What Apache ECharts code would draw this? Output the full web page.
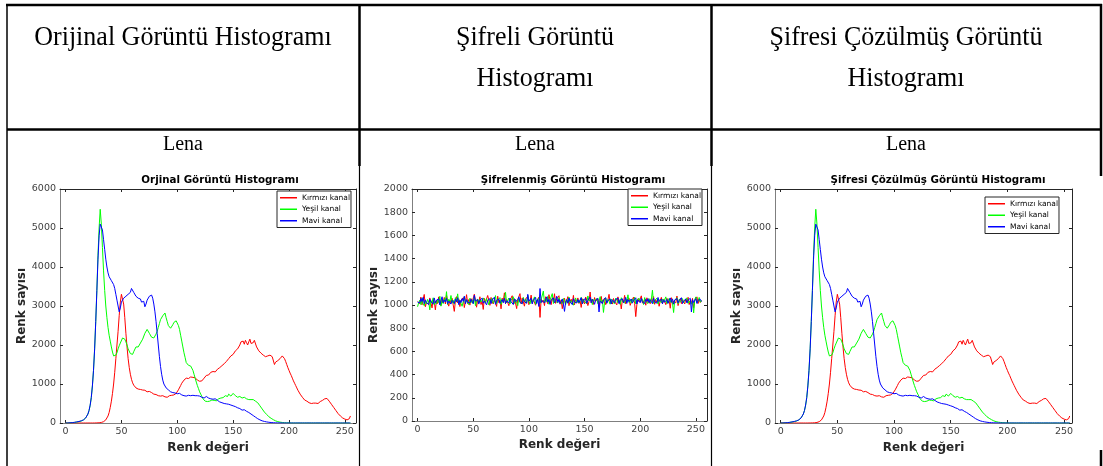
<!DOCTYPE html>
<html>
<head>
<meta charset="utf-8">
<script src="https://cdn.jsdelivr.net/npm/echarts@6/dist/echarts.min.js"></script>
<style>
html,body{margin:0;padding:0;background:#fff;}
#c{width:1103px;height:466px;}
</style>
</head>
<body>
<div id="c"></div>
<script>
// Column headings of the comparison table
const headings = [
  ['Orijinal Görüntü Histogramı'],
  ['Şifreli Görüntü', 'Histogramı'],
  ['Şifresi Çözülmüş Görüntü', 'Histogramı']
];
const imageName = 'Lena';
const plotTitles = ['Orjinal Görüntü Histogramı', 'Şifrelenmiş Görüntü Histogramı', 'Şifresi Çözülmüş Görüntü Histogramı'];
const channelNames = ['Kırmızı kanal', 'Yeşil kanal', 'Mavi kanal'];
const channelColors = ['#ff0000', '#00ff00', '#0000ff'];
const xTicks = [0, 50, 100, 150, 200, 250];
const xLabel = 'Renk değeri';
const yLabel = 'Renk sayısı';

// Histogram of the original image (intensity 0..255)
const origRed = [
  0,0,0,0,0,0,0,0,0,0,0,0,0,0,0,0,
  0,0,0,0,0,0,0,0,0,1,1,2,3,4,6,9,
  14,22,34,52,80,120,180,270,400,560,760,1000,1300,1650,2000,2350,
  2750,3100,3300,3250,3050,2700,2300,1950,1650,1420,1250,1120,1030,970,930,900,
  880,870,850,860,830,845,820,840,810,800,790,810,770,780,760,740,
  750,730,720,700,710,690,680,700,660,670,680,660,690,700,680,710,
  700,720,740,760,800,850,900,960,1020,1070,1100,1130,1150,1160,1140,1170,
  1180,1150,1170,1140,1160,1120,1100,1080,1070,1060,1080,1120,1150,1180,1220,1250,
  1230,1270,1300,1280,1320,1340,1310,1350,1380,1400,1420,1450,1470,1500,1520,1550,
  1580,1620,1650,1700,1720,1680,1760,1800,1850,1820,1900,1950,2000,2080,2050,2100,
  2020,2120,2060,2000,2080,2150,2040,2010,2060,2120,2080,1950,1900,1850,1820,1790,
  1760,1740,1720,1700,1680,1720,1690,1740,1760,1700,1650,1500,1560,1520,1600,1620,
  1650,1680,1720,1700,1650,1580,1500,1420,1350,1280,1220,1150,1080,1020,960,900,
  840,790,740,700,660,620,590,580,560,540,520,510,500,520,510,500,
  510,520,500,530,550,570,580,600,620,650,630,600,560,520,480,440,
  400,360,320,280,240,210,180,150,130,110,100,90,80,70,110,180
];
const origGreen = [
  0,0,0,2,3,5,8,12,15,20,25,30,35,40,50,60,
  80,100,130,170,230,320,450,650,950,1350,1900,2600,3400,4300,5000,5480,
  5100,4500,3900,3400,3000,2700,2450,2250,2100,1950,1820,1720,1700,1740,1800,1900,
  1980,2050,2100,2180,2220,2150,2080,2000,1900,1850,1780,1800,1760,1830,1880,1950,
  1900,1950,2000,2050,2100,2150,2200,2300,2350,2400,2380,2300,2250,2200,2250,2180,
  2200,2280,2350,2450,2550,2650,2700,2750,2780,2820,2700,2600,2500,2450,2430,2470,
  2520,2580,2600,2620,2580,2500,2400,2250,2100,1950,1800,1680,1550,1500,1480,1500,
  1460,1420,1350,1250,1150,1050,960,880,800,740,680,620,580,560,570,550,
  580,560,570,590,560,580,600,570,590,620,600,640,660,650,680,700,
  720,680,740,700,690,710,760,720,700,680,660,700,680,650,640,620,
  660,640,620,640,600,620,600,590,600,580,560,540,520,480,440,400,
  360,320,280,250,220,190,160,140,120,100,85,70,55,45,35,28,
  22,18,14,10,8,6,5,4,3,2,1,1,0,0,0,0,
  0,0,0,0,0,0,0,0,0,0,0,0,0,0,0,0,
  0,0,0,0,0,0,0,0,0,0,0,0,0,0,0,0,
  0,0,0,0,0,0,0,0,0,0,0,0,0,0,0,0
];
const origBlue = [
  0,0,0,3,5,8,10,14,18,22,28,34,40,48,56,66,
  80,100,130,170,230,320,460,650,950,1350,1900,2600,3400,4200,4800,5100,
  5150,4950,4700,4450,4200,4000,3850,3750,3700,3650,3600,3550,3450,3300,3150,3000,
  2850,2950,3100,3050,3200,3150,3250,3200,3300,3250,3350,3450,3400,3350,3300,3250,
  3280,3200,3150,3180,3100,3050,3120,2980,3050,3150,3200,3250,3300,3280,3200,3050,
  2850,2600,2300,2000,1700,1450,1250,1100,1000,950,900,870,850,830,800,810,
  780,790,770,760,750,740,760,730,720,710,700,720,690,700,710,720,
  700,730,710,720,700,690,700,680,690,670,660,650,640,660,680,650,
  640,660,620,650,610,600,620,590,580,560,540,550,520,530,500,510,
  490,500,480,470,460,450,440,430,420,400,390,380,370,350,330,320,
  340,320,300,290,270,250,230,210,190,170,150,130,110,95,80,65,
  55,48,40,34,28,23,19,15,12,10,8,6,5,4,3,2,
  2,1,1,1,0,0,0,0,0,0,0,0,0,0,0,0,
  0,0,0,0,0,0,0,0,0,0,0,0,0,0,0,0,
  0,0,0,0,0,0,0,0,0,0,0,0,0,0,0,0,
  0,0,0,0,0,0,0,0,0,0,0,0,0,0,0,0
];

// Histogram of the encrypted image (flat, around 1024 per level)
const encRed = [
  1030,1045,1012,1068,1002,1050,1091,985,1020,1037,1004,1061,1018,975,1049,1026,
  958,1040,1012,1070,1033,996,1048,1021,1065,1009,1084,1027,990,1043,1016,1058,
  1001,945,1036,1072,1019,1053,987,1041,1025,1063,978,1030,1089,1012,1047,999,
  1055,1023,1010,1093,1038,981,1046,1019,1071,1004,1032,962,1057,1026,1014,1082,
  1041,997,1065,1028,1009,1050,1035,988,1076,1020,1043,967,1059,1031,1105,1012,
  1048,1036,994,1040,1023,1080,1006,1054,1017,969,1045,1032,1098,1011,1061,1027,
  990,1052,1038,1074,1003,1029,1085,1015,1046,1062,998,1035,1019,1067,893,1050,
  1024,1042,995,1071,1033,1011,1089,1040,1003,1063,1029,1097,1014,1052,1036,1080,
  1007,1044,968,1026,1058,1015,1039,1072,994,1031,1050,1018,1083,1002,1047,1025,
  1061,1013,1036,979,1054,1028,1009,1069,1041,995,1030,1112,1020,1048,1005,1064,
  1033,1017,1052,986,1040,1074,1011,1038,1059,1003,1027,1046,1092,1015,1035,1008,
  1056,1029,1044,1001,1070,1019,1037,966,1050,1024,1083,1010,1042,1031,1060,997,
  1025,1048,1068,1012,900,1003,1054,1027,1041,1079,1016,1033,1045,998,1062,1020,
  1039,1011,1057,1030,1073,1006,1044,1022,1051,989,1035,1066,1014,1047,1028,1003,
  1058,1021,1040,972,1063,1010,1034,1049,1018,1077,995,1030,1054,1012,1043,1026,
  1009,1052,1031,1066,1004,1038,1019,1057,975,1042,1027,1070,1013,1048,1022,1036
];
const encGreen = [
  985,1020,1041,1003,1057,1012,994,1035,1010,1048,1026,958,1039,1017,1062,1001,
  1033,1009,1046,1021,1075,990,1038,1012,1054,1027,1115,1004,1049,1030,1082,1018,
  1042,1007,1063,1025,1096,1014,1036,1051,989,1029,1070,1016,1045,1032,1003,1058,
  1021,1040,1011,1068,995,1034,1052,1018,1047,1026,1009,1061,1038,1017,1055,1030,
  1002,1046,1023,1059,1015,1040,1081,1012,1037,1027,1064,1005,1050,1022,1043,1109,
  1018,1035,1060,1008,1042,1028,1071,1013,1049,1036,995,1057,1024,1039,1011,1066,
  1029,1047,1016,1085,1032,1009,1053,1021,1044,1070,1006,1038,1025,1062,1014,1046,
  1035,1120,1018,1051,1029,1074,1007,1043,1026,1098,1012,1055,1031,1047,1019,1063,
  1024,1041,1013,1056,1033,1002,1048,1027,1069,1015,1039,1054,998,1036,1061,1020,
  1045,1017,1031,1066,1009,1052,1026,1040,1013,1078,1035,1021,1050,1004,1046,1029,
  1038,1057,1011,1032,1071,1019,1044,936,1027,1060,1015,1048,1030,1007,1052,1025,
  1034,1012,1059,1041,1020,1047,1005,1063,1028,1039,1017,1054,1033,1088,1022,1045,
  1016,1050,1030,1067,1010,1043,1026,1058,1035,1019,1049,1004,1064,1031,1037,1012,
  1055,1021,1044,1128,1014,1039,1028,1060,1008,1047,1033,1019,1052,1025,1041,1070,
  1011,1036,1057,1022,1045,1016,935,1040,1029,1063,1010,1048,1024,1039,1055,1018,
  1043,1027,1061,1014,1035,1050,1007,1039,932,1046,1070,1017,1038,1065,1024,1041
];
const encBlue = [
  1025,1040,1018,1057,1030,1066,1012,1045,1021,1038,1004,1050,1027,1035,1009,1061,
  1016,1042,1029,1053,1000,1036,1071,1019,1044,1026,1058,1011,1033,1049,1008,1040,
  1037,1014,1052,1028,1063,1003,1041,1020,1055,1032,1076,1010,1046,1024,1039,1017,
  1050,1030,1012,1084,1035,1021,1047,1008,1041,1027,1059,1015,1034,1049,1001,1038,
  1023,1055,1011,1043,1030,1067,1006,1039,1024,1052,1015,1031,1046,1020,1058,1013,
  1036,1048,1019,1060,1027,1041,1005,1053,1030,1016,1045,1070,1022,1037,1011,1054,
  1028,1043,1015,1092,1033,1020,1058,1009,1040,1026,1066,1013,1047,987,1142,1021,
  1039,1056,1017,1034,1070,1025,1048,1006,1043,1030,1061,1019,1037,1075,1022,1049,
  1013,1032,1052,1008,945,1024,1046,1015,1060,1029,1041,1003,1055,1026,1038,1017,
  1047,1021,1035,1063,1010,1044,1028,1056,1014,1039,1025,1068,1019,1050,1031,1006,
  1042,1027,1058,940,1036,1051,1012,1045,1030,1064,1016,1039,1024,1053,1009,1046,
  1031,1018,1049,1035,1060,1011,1043,1026,1054,1020,1038,1066,1014,1047,1029,1037,
  1052,1016,1041,1028,1062,1008,1044,1033,1019,1057,1025,1040,1013,1049,1031,1055,
  1020,1046,1034,1011,1059,1027,1042,1016,1065,1030,1038,1052,1009,1045,1024,1036,
  1048,1014,1039,1061,1023,1053,1007,1044,1032,1056,1018,1040,1027,1063,1012,1035,
  1029,1051,1017,1042,1034,1058,940,1046,1021,1038,1055,1013,1040,1026,1049,1030
];

// The decrypted image is recovered exactly, so its histogram equals the original one
const decRed = origRed, decGreen = origGreen, decBlue = origBlue;

const panels = [
  { grid: { left: 60, top: 189, width: 296, height: 234 }, xMax: 260, yMax: 6000, yStep: 1000,
    series: [origRed, origGreen, origBlue], titleX: 220, yGap: 25,
    legend: { left: 277, top: 191 } },
  { grid: { left: 412, top: 189, width: 295, height: 232 }, xMax: 260, yMax: 2000, yStep: 200,
    series: [encRed, encGreen, encBlue], titleX: 573, yGap: 26,
    legend: { left: 628, top: 189 } },
  { grid: { left: 775, top: 189, width: 297, height: 234 }, xMax: 257, yMax: 6000, yStep: 1000,
    series: [decRed, decGreen, decBlue], titleX: 938, yGap: 26,
    legend: { left: 985, top: 197 } }
];

const tickFont = { fontFamily: 'DejaVu Sans', fontSize: 9.5, color: '#404040' };
const nameFont = { fontFamily: 'DejaVu Sans', fontSize: 12, fontWeight: 'bold', color: '#262626' };
const lightAxis = '#7f7f7f', darkAxis = '#262626';
const plain = v => String(v);

const grids = [], xAxes = [], yAxes = [], seriesList = [], legends = [];
panels.forEach((p, i) => {
  grids.push(Object.assign({ containLabel: false }, p.grid));
  // bottom and top x axes
  xAxes.push({
    type: 'value', gridIndex: i, min: -5, max: p.xMax, position: 'bottom',
    axisLine: { show: true, onZero: false, lineStyle: { color: lightAxis, width: 1 } },
    axisTick: { show: true, inside: true, length: 3, customValues: xTicks, lineStyle: { color: darkAxis } },
    axisLabel: Object.assign({ customValues: xTicks, margin: 4, formatter: plain }, tickFont),
    splitLine: { show: false },
    name: xLabel, nameLocation: 'middle', nameGap: 18, nameTextStyle: nameFont
  });
  xAxes.push({
    type: 'value', gridIndex: i, min: -5, max: p.xMax, position: 'top',
    axisLine: { show: true, onZero: false, lineStyle: { color: darkAxis, width: 1 } },
    axisTick: { show: true, inside: true, length: 3, customValues: xTicks, lineStyle: { color: darkAxis } },
    axisLabel: { show: false }, splitLine: { show: false }
  });
  // left and right y axes
  yAxes.push({
    type: 'value', gridIndex: i, min: 0, max: p.yMax, interval: p.yStep, position: 'left',
    axisLine: { show: true, onZero: false, lineStyle: { color: lightAxis, width: 1 } },
    axisTick: { show: true, inside: true, length: 3, lineStyle: { color: darkAxis } },
    axisLabel: Object.assign({ margin: 4, formatter: plain }, tickFont),
    splitLine: { show: false },
    name: yLabel, nameLocation: 'middle', nameRotate: 90, nameGap: p.yGap, nameTextStyle: nameFont
  });
  yAxes.push({
    type: 'value', gridIndex: i, min: 0, max: p.yMax, interval: p.yStep, position: 'right',
    axisLine: { show: true, onZero: false, lineStyle: { color: darkAxis, width: 1 } },
    axisTick: { show: true, inside: true, length: 3, lineStyle: { color: darkAxis } },
    axisLabel: { show: false }, splitLine: { show: false }
  });
  p.series.forEach((values, k) => {
    seriesList.push({
      type: 'line', name: channelNames[k], xAxisIndex: 2 * i, yAxisIndex: 2 * i,
      data: values.map((v, level) => [level, v]),
      showSymbol: false, symbol: 'none', animation: false,
      lineStyle: { color: channelColors[k], width: 1 }, itemStyle: { color: channelColors[k] },
      z: 2 + k
    });
  });
  legends.push({
    left: p.legend.left, top: p.legend.top, orient: 'vertical',
    data: channelNames, icon: 'rect', itemWidth: 17, itemHeight: 1.5, itemGap: 2,
    padding: [2, 1, 2, 3], borderColor: darkAxis, borderWidth: 1, backgroundColor: '#fff',
    textStyle: { fontFamily: 'DejaVu Sans', fontSize: 7.5, color: '#000', lineHeight: 9.5 },
    selectedMode: false
  });
});

// Table frame and captions
const serif = 'Liberation Serif';
const colCenters = [183, 535, 906];
const graphics = [];
const line = (x1, y1, x2, y2, w) => graphics.push({
  type: 'line', shape: { x1, y1, x2, y2 }, style: { stroke: '#000', lineWidth: w }, z: 100
});
line(6, 5, 1102, 5, 2.5);         // top rule
line(7, 4, 7, 466, 1.5);          // left edge
line(7, 129.5, 1102, 129.5, 2.5); // rule under the headings
line(359.5, 4, 359.5, 166, 2.5);
line(359.5, 166, 359.5, 466, 1.2);
line(711.5, 4, 711.5, 166, 2.5);
line(711.5, 166, 711.5, 466, 1.2);
line(1101, 4, 1101, 176, 2.5);    // right edge
line(1101, 450, 1101, 466, 2.5);

headings.forEach((rows, c) => {
  rows.forEach((t, r) => {
    graphics.push({
      type: 'text', x: colCenters[c], y: 41 + r * 45, scaleY: 1.08, originY: 41 + r * 45,
      style: { text: t, fontFamily: serif, fontSize: 26, fill: '#000', align: 'center', verticalAlign: 'middle' }
    });
  });
  graphics.push({
    type: 'text', x: colCenters[c], y: 145,
    style: { text: imageName, fontFamily: serif, fontSize: 20, fill: '#000', align: 'center', verticalAlign: 'middle' }
  });
  graphics.push({
    type: 'text', x: panels[c].titleX, y: 180,
    style: { text: plotTitles[c], fontFamily: 'DejaVu Sans', fontSize: 10.3, fontWeight: 'bold', fill: '#000',
             align: 'center', verticalAlign: 'middle' }
  });
});

const chart = echarts.init(document.getElementById('c'), null, { renderer: 'canvas' });
chart.setOption({
  backgroundColor: '#fff',
  animation: false,
  grid: grids,
  xAxis: xAxes,
  yAxis: yAxes,
  legend: legends,
  series: seriesList,
  graphic: graphics
});
</script>
</body>
</html>
